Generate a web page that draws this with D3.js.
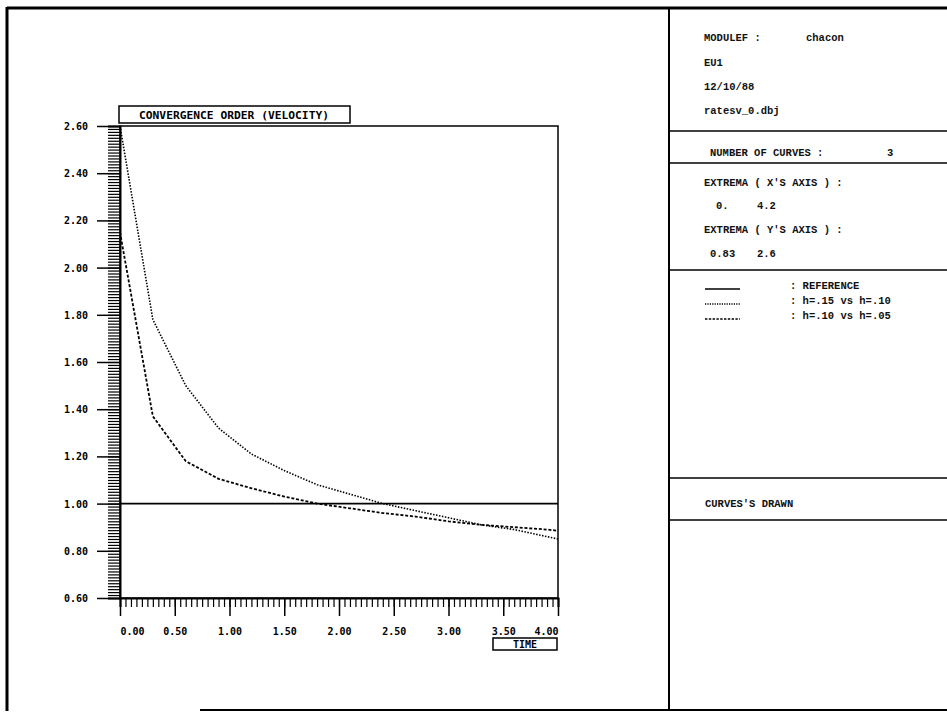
<!DOCTYPE html>
<html>
<head>
<meta charset="utf-8">
<script src="https://cdn.jsdelivr.net/npm/d3@7"></script>
<style>
  html, body { margin: 0; padding: 0; background: #fff; }
  svg { display: block; }
  .tick-label { font-family: "DejaVu Sans Mono", monospace; font-weight: bold; font-size: 10px; fill: #000; }
  .panel { font-family: "Liberation Mono", "Courier New", monospace; font-weight: bold; font-size: 10.5px; fill: #111; }
</style>
</head>
<body>
<svg id="chart" width="947" height="713"></svg>
<script>
// Time samples (s) shared by every curve
const times = [0, 0.3, 0.6, 0.9, 1.2, 1.5, 1.8, 2.1, 2.4, 2.7, 3.0, 3.3, 3.6, 3.9, 4.2];
// Convergence order, h=.15 vs h=.10
const orderCoarse = [2.60, 1.78, 1.50, 1.32, 1.21, 1.14, 1.08, 1.04, 1.00, 0.97, 0.94, 0.91, 0.89, 0.86, 0.83];
// Convergence order, h=.10 vs h=.05
const orderFine = [2.15, 1.37, 1.18, 1.105, 1.065, 1.03, 1.00, 0.98, 0.96, 0.945, 0.925, 0.91, 0.90, 0.89, 0.875];
// Reference order
const referenceOrder = [1.0, 1.0];
const referenceTimes = [0, 4.2];

const xTicks = [0, 0.5, 1.0, 1.5, 2.0, 2.5, 3.0, 3.5, 4.0];
const yTicks = [0.6, 0.8, 1.0, 1.2, 1.4, 1.6, 1.8, 2.0, 2.2, 2.4, 2.6];

const panelHeader = ["MODULEF :", "EU1", "12/10/88", "ratesv_0.dbj"];
const legendLabels = [": REFERENCE", ": h=.15 vs h=.10", ": h=.10 vs h=.05"];

const svg = d3.select("#chart");

// Page frame and panel separators
const frame = svg.append("g").attr("stroke", "#000").attr("fill", "none");
frame.append("line").attr("x1", 7).attr("x2", 947).attr("y1", 8).attr("y2", 8).attr("stroke-width", 3);
frame.append("line").attr("x1", 7).attr("x2", 7).attr("y1", 7).attr("y2", 711).attr("stroke-width", 3);
frame.append("line").attr("x1", 200).attr("x2", 947).attr("y1", 710).attr("y2", 710).attr("stroke-width", 2);
frame.append("line").attr("x1", 669).attr("x2", 669).attr("y1", 8).attr("y2", 711).attr("stroke-width", 2);
[131, 163, 270, 478, 520].forEach(y => {
  frame.append("line").attr("x1", 669).attr("x2", 947).attr("y1", y).attr("y2", y).attr("stroke-width", 1.5);
});

// Scales
const x = d3.scaleLinear().domain([0, 4]).range([120, 558]);
const y = d3.scaleLinear().domain([0.6, 2.6]).range([598, 126]);

// Plot box
const plot = svg.append("g");
plot.append("rect")
  .attr("x", x(0)).attr("y", y(2.6))
  .attr("width", x(4) - x(0)).attr("height", y(0.6) - y(2.6))
  .attr("fill", "none").attr("stroke", "#000").attr("stroke-width", 1.5);

// Y axis: major ticks + dense minor ticks on the left of the axis line
const yAxisMinor = d3.axisLeft(y)
  .tickValues(d3.range(0, 161).map(i => 0.6 + i * 0.0125))
  .tickSize(12).tickFormat("");
plot.append("g").attr("transform", `translate(${x(0)},0)`).call(yAxisMinor)
  .call(g => g.select(".domain").attr("stroke-width", 2))
  .call(g => g.selectAll(".tick line").attr("stroke-width", 1.2));

const yAxisMajor = d3.axisLeft(y).tickValues(yTicks).tickSize(23).tickPadding(9)
  .tickFormat(d3.format(".2f"));
plot.append("g").attr("transform", `translate(${x(0)},0)`).call(yAxisMajor)
  .call(g => g.select(".domain").remove())
  .call(g => g.selectAll(".tick line").attr("stroke-width", 1.5))
  .call(g => g.selectAll(".tick text").attr("class", "tick-label").attr("dy", "0.35em"));

// X axis: minor ticks every 0.05, major every 0.5
const xAxisMinor = d3.axisBottom(x)
  .tickValues(d3.range(0, 81).map(i => i * 0.05))
  .tickSize(9).tickFormat("");
plot.append("g").attr("transform", `translate(0,${y(0.6)})`).call(xAxisMinor)
  .call(g => g.select(".domain").attr("stroke-width", 2))
  .call(g => g.selectAll(".tick line").attr("stroke-width", 1.2));

const xAxisMajor = d3.axisBottom(x).tickValues(xTicks).tickSize(18).tickPadding(12)
  .tickFormat(d3.format(".2f"));
plot.append("g").attr("transform", `translate(0,${y(0.6)})`).call(xAxisMajor)
  .call(g => g.select(".domain").remove())
  .call(g => g.selectAll(".tick line").attr("stroke-width", 1.5))
  .call(g => g.selectAll(".tick text").attr("class", "tick-label")
    .attr("text-anchor", (d, i) => i === 0 ? "start" : (i === xTicks.length - 1 ? "end" : "middle")));

// Curves, clipped to the plot box
svg.append("clipPath").attr("id", "plot-clip")
  .append("rect").attr("x", x(0)).attr("y", y(2.6)).attr("width", x(4) - x(0)).attr("height", y(0.6) - y(2.6));

const line = d3.line().x(d => x(d[0])).y(d => y(d[1]));
const curves = plot.append("g").attr("clip-path", "url(#plot-clip)").attr("fill", "none").attr("stroke", "#000");

curves.append("path").datum(d3.zip(referenceTimes, referenceOrder))
  .attr("d", line).attr("stroke-width", 1.6);
curves.append("path").datum(d3.zip(times, orderCoarse))
  .attr("d", line).attr("stroke-width", 1.6).attr("stroke-dasharray", "1.5,1.5");
curves.append("path").datum(d3.zip(times, orderFine))
  .attr("d", line).attr("stroke-width", 1.8).attr("stroke-dasharray", "3,1.8");

// Title box
const title = svg.append("g");
title.append("rect").attr("x", 119).attr("y", 106).attr("width", 231).attr("height", 17)
  .attr("fill", "none").attr("stroke", "#000").attr("stroke-width", 1.5);
title.append("text").attr("class", "tick-label").attr("x", 234).attr("y", 118.5)
  .attr("text-anchor", "middle").attr("textLength", 190).attr("lengthAdjust", "spacingAndGlyphs")
  .text("CONVERGENCE ORDER (VELOCITY)");

// Axis name box
const timeBox = svg.append("g");
timeBox.append("rect").attr("x", 493).attr("y", 638).attr("width", 64).attr("height", 12)
  .attr("fill", "none").attr("stroke", "#000").attr("stroke-width", 1.5);
timeBox.append("text").attr("class", "tick-label").attr("x", 525).attr("y", 648)
  .attr("text-anchor", "middle").text("TIME");

// Information panel
const panel = svg.append("g");
const headerY = [41, 66, 90, 114];
panelHeader.forEach((t, i) => {
  panel.append("text").attr("class", "panel").attr("x", 704).attr("y", headerY[i]).text(t);
});
panel.append("text").attr("class", "panel").attr("x", 806).attr("y", headerY[0]).text("chacon");

panel.append("text").attr("class", "panel").attr("x", 710).attr("y", 156).text("NUMBER OF CURVES  :");
panel.append("text").attr("class", "panel").attr("x", 887).attr("y", 156).text("3");

panel.append("text").attr("class", "panel").attr("x", 704).attr("y", 186).text("EXTREMA ( X'S AXIS )  :");
panel.append("text").attr("class", "panel").attr("x", 716).attr("y", 209).text("0.");
panel.append("text").attr("class", "panel").attr("x", 757).attr("y", 209).text("4.2");
panel.append("text").attr("class", "panel").attr("x", 704).attr("y", 233).text("EXTREMA ( Y'S AXIS )  :");
panel.append("text").attr("class", "panel").attr("x", 710).attr("y", 257).text("0.83");
panel.append("text").attr("class", "panel").attr("x", 757).attr("y", 257).text("2.6");

// Legend
const legendY = [289, 304, 319];
const legendDash = [null, "1.2,1.2", "2.4,1.4"];
legendLabels.forEach((t, i) => {
  panel.append("line").attr("x1", 705).attr("x2", 740).attr("y1", legendY[i]).attr("y2", legendY[i])
    .attr("stroke", "#000").attr("stroke-width", 1.3).attr("stroke-dasharray", legendDash[i]);
  panel.append("text").attr("class", "panel").attr("x", 790).attr("y", legendY[i]).text(t);
});

panel.append("text").attr("class", "panel").attr("x", 705).attr("y", 507).text("CURVES'S DRAWN");
</script>
</body>
</html>
